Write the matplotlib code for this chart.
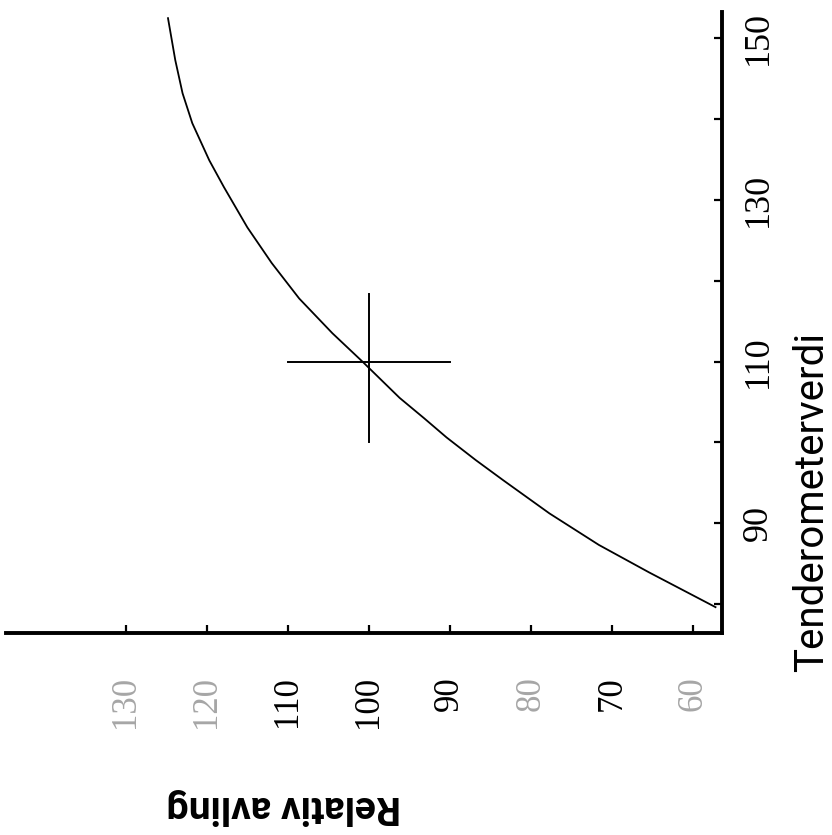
import matplotlib
matplotlib.use("Agg")
import matplotlib.pyplot as plt

# curve: tenderometer value vs relative yield
tender = [79.6, 83.9, 87.3, 91.2, 95.3, 97.8, 100.6, 103.0, 105.5, 110.0, 113.5, 117.8,
          122.2, 126.6, 131.6, 134.9, 139.5, 143.2, 147.3, 152.5]
yield_rel = [57.2, 65.4, 71.6, 77.7, 83.4, 86.8, 90.4, 93.2, 96.2, 100.8, 104.5, 108.6,
             112.0, 115.0, 117.9, 119.7, 121.8, 123.0, 123.9, 124.8]

# cross at tenderometer 110 / relative yield 100
cross_t = 110
cross_r = 100
cross_r_span = [90, 110]
cross_t_span = [100, 118.3]

yield_ticks = [130, 120, 110, 100, 90, 80, 70, 60]
faded = [130, 120, 80, 60]  # these labels are pale in the scan
tender_ticks = [80, 90, 100, 110, 120, 130, 140, 150]
tender_labels = [90, 110, 130, 150]

narrow = ['DejaVu Sans Condensed', 'Liberation Sans Narrow', 'Roboto', 'DejaVu Sans']

fig = plt.figure(figsize=(8.32, 8.35), dpi=100)
# chart is drawn turned a quarter turn: yield runs right-to-left, tenderometer upward
ax = fig.add_axes([6/832, 1-633/835, (722-6)/832, (633-11.7)/835])

ax.plot(yield_rel, tender, color='black', lw=1.3)
ax.plot(cross_r_span, [cross_t, cross_t], color='black', lw=1.4)
ax.plot([cross_r, cross_r], cross_t_span, color='black', lw=1.4)

ax.set_xlim(144.8, 56.4)
ax.set_ylim(76.4, 153.3)

for side in ['top', 'left']:
    ax.spines[side].set_visible(False)
for side in ['bottom', 'right']:
    ax.spines[side].set_linewidth(2.8)

ax.set_xticks(yield_ticks)
ax.set_xticklabels([str(v) for v in yield_ticks], rotation=90,
                   family='Liberation Serif', fontsize=25)
for lab, v in zip(ax.get_xticklabels(), yield_ticks):
    if v in faded:
        lab.set_color('0.65')
ax.tick_params(axis='x', direction='in', length=6, width=1.6, pad=31)

ax.yaxis.tick_right()
ax.set_yticks(tender_ticks)
ax.set_yticklabels([str(v) if v in tender_labels else '' for v in tender_ticks],
                   rotation=90, va='center', family='Liberation Serif', fontsize=26)
ax.tick_params(axis='y', direction='in', length=6, width=1.6, pad=14)

fig.text(812/832, 1-502/835, 'Tenderometerverdi', rotation=90, ha='center', va='center',
         family=narrow, fontsize=29)
fig.text(284/832, 1-806/835, 'Relativ avling', rotation=180, ha='center', va='center',
         family=narrow, fontsize=28, fontweight='bold')

fig.savefig('out.png', dpi=100)
